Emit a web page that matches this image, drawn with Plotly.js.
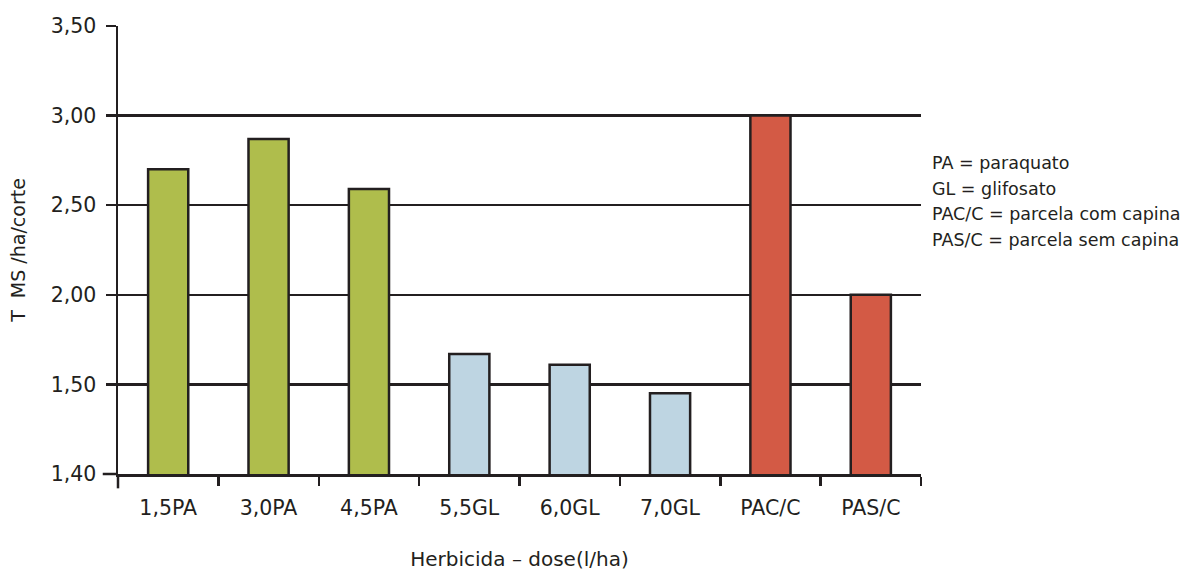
<!DOCTYPE html>
<html>
<head>
<meta charset="utf-8">
<script src="https://cdn.plot.ly/plotly-3.0.1.min.js"></script>
<style>html,body{margin:0;padding:0;background:#fff;}#chart{width:1190px;height:571px;}</style>
</head>
<body>
<div id="chart"></div>
<script>
// Categories and values (T MS/ha/corte)
var categories = ["1,5PA", "3,0PA", "4,5PA", "5,5GL", "6,0GL", "7,0GL", "PAC/C", "PAS/C"];
var values = [2.70, 2.87, 2.59, 1.67, 1.61, 1.49, 3.00, 2.00];
var barColors = ["#AFBD4C", "#AFBD4C", "#AFBD4C", "#BED5E2", "#BED5E2", "#BED5E2", "#D35A45", "#D35A45"];
// Broken y axis: the 1,40–1,50 segment is drawn as tall as a 0,50 step
var tickValues = [1.40, 1.50, 2.00, 2.50, 3.00, 3.50];
var tickLabels = ["1,40", "1,50", "2,00", "2,50", "3,00", "3,50"];
var legendLines = ["PA = paraquato", "GL = glifosato", "PAC/C = parcela com capina", "PAS/C = parcela sem capina"];

function axisPos(v) { return v < 1.5 ? 1.0 + (v - 1.4) * 5 : v; }

var trace = {
  type: "bar",
  x: categories,
  y: values.map(axisPos),
  base: 0,
  marker: { color: barColors, line: { color: "#231F20", width: 2.5 } },
  hoverinfo: "skip"
};

var font = "DejaVu Sans, Verdana, sans-serif";
var ink = "#231F20";
var legendAnn = legendLines.map(function (t, i) {
  return {
    xref: "paper", yref: "paper", x: 1.0112, y: (474 - (163 + i * 25.5)) / 448,
    xanchor: "left", yanchor: "middle", align: "left", showarrow: false,
    text: t, font: { size: 17.5, family: font, color: ink }
  };
});

var layout = {
  width: 1190, height: 571,
  margin: { l: 118, r: 269, t: 26, b: 97 },
  paper_bgcolor: "#fff", plot_bgcolor: "#fff",
  showlegend: false,
  bargap: 0.6,
  font: { family: font, color: ink },
  xaxis: {
    type: "category",
    tickson: "boundaries",
    ticks: "outside", ticklen: 9, tickwidth: 2.5, tickcolor: ink,
    ticklabelstandoff: 14,
    showgrid: false, showline: true, linecolor: ink, linewidth: 2.5,
    tickfont: { size: 20.5, family: font, color: ink },
    title: { text: "Herbicida \u2013 dose(l/ha)", font: { size: 20, family: font, color: ink }, standoff: 36 },
    fixedrange: true
  },
  yaxis: {
    range: [1.0, 3.5],
    tickvals: tickValues.map(axisPos),
    ticktext: tickLabels,
    ticks: "outside", ticklen: 10, tickwidth: 2.5, tickcolor: ink,
    ticklabelstandoff: 5,
    showgrid: true, gridcolor: ink, gridwidth: 2.5,
    showline: true, linecolor: ink, linewidth: 2.5,
    zeroline: false,
    tickfont: { size: 20.5, family: font, color: ink },
    title: { text: "T\u00a0\u00a0MS\u00a0/ha/corte", font: { size: 19, family: font, color: ink }, standoff: 20 },
    fixedrange: true
  },
  shapes: [
    { type: "line", xref: "paper", yref: "paper", x0: 0, x1: 0, y0: 0, y1: -0.032,
      line: { color: ink, width: 2.5 } },
    { type: "line", xref: "paper", yref: "paper", x0: -0.019, x1: 0, y0: 0, y1: 0,
      line: { color: ink, width: 2.5 } }
  ],
  annotations: legendAnn
};

Plotly.newPlot("chart", [trace], layout, { displayModeBar: false, staticPlot: true });
</script>
</body>
</html>
